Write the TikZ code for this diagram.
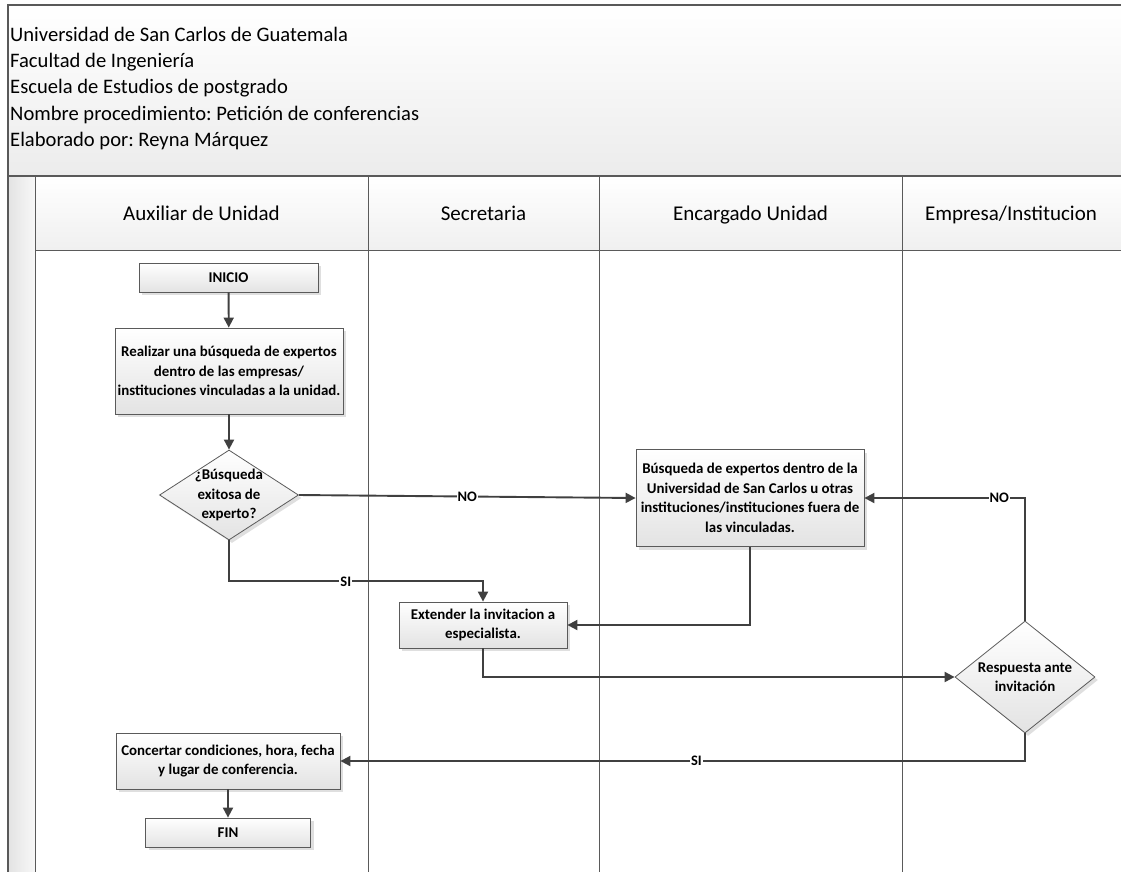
\documentclass[tikz,border=0pt]{standalone}
\usepackage{fontspec}
\setmainfont{Carlito}
\usepackage{tikz}
\usetikzlibrary{shapes.geometric,arrows.meta,shadows}
\frenchspacing

\definecolor{linegray}{HTML}{404040}
\definecolor{bordergray}{HTML}{5A5A5A}

\tikzset{
    boxfont/.style={font=\bfseries\fontsize{14.9}{19.5}\selectfont},
    procbox/.style={rectangle, draw=bordergray, line width=0.8pt, top color=white, bottom color=gray!22,
        drop shadow={opacity=0.25, shadow xshift=3pt, shadow yshift=-3pt}, align=center, inner sep=2pt, boxfont},
    decision/.style={diamond, draw=bordergray, line width=0.8pt, top color=white, bottom color=gray!22,
        drop shadow={opacity=0.25, shadow xshift=3pt, shadow yshift=-3pt}, inner sep=0pt},
    flow/.style={draw=linegray, line width=1.9pt, -{Triangle[length=10pt,width=10pt]}},
    answer/.style={fill=white, inner sep=1pt, font=\bfseries\fontsize{14.5}{15}\selectfont},
    lanetitle/.style={anchor=base, font=\fontsize{21}{24}\selectfont},
    laneline/.style={draw=bordergray, line width=1pt}
}

\begin{document}
\begin{tikzpicture}[x=1pt, y=-1pt]
        \useasboundingbox (0,0) rectangle (1121,871) ;
        % encabezado
        \shade[top color=white, bottom color=gray!15, draw=gray!70!black, line width=1.2pt] (8,5) rectangle (1130,176) ;
        \node[anchor=north west, align=left, inner sep=0pt, font=\fontsize{20.6}{26.2}\selectfont] (titulo) at (10,27)
            {Universidad de San Carlos de Guatemala\\Facultad de Ingeniería\\Escuela de Estudios de postgrado\\Nombre procedimiento: Petición de conferencias\\Elaborado por: Reyna Márquez} ;
        % carriles
        \shade[left color=gray!22, right color=gray!6] (8,176) rectangle (35,880) ;
        \shade[top color=white, bottom color=gray!12] (35,176) rectangle (1130,250) ;
        \draw[draw=gray!70!black, line width=1.2pt] (8,176) -- (8,880) ;
        \draw[laneline] (8,176) -- (1130,176) ;
        \draw[laneline] (35,250) -- (1130,250) ;
        \draw[laneline] (35,176) -- (35,880) ;
        \draw[laneline] (368,176) -- (368,880) ;
        \draw[laneline] (599,176) -- (599,880) ;
        \draw[laneline] (902,176) -- (902,880) ;
        \node[lanetitle] (aux) at (201.5,220) {Auxiliar de Unidad} ;
        \node[lanetitle] (sec) at (483.5,220) {Secretaria} ;
        \node[lanetitle] (enc) at (750.5,220) {Encargado Unidad} ;
        \node[lanetitle] (emp) at (1011,220) {Empresa/Institucion} ;
        % nodos
        \node[procbox, minimum width=179pt, minimum height=29pt] (ini) at (228.5,277.5) {INICIO} ;
        \node[procbox, minimum width=228pt, minimum height=86pt] (real) at (229,371) {Realizar una búsqueda de expertos\\dentro de las empresas/\\instituciones vinculadas a la unidad.} ;
        \node[decision, minimum width=139pt, minimum height=90pt,
            label={[boxfont, align=center]center:¿Búsqueda\\exitosa de\\experto?}] (exito) at (229,495) {} ;
        \node[procbox, minimum width=228pt, minimum height=97pt] (busq) at (750,498) {Búsqueda de expertos dentro de la\\Universidad de San Carlos u otras\\instituciones/instituciones fuera de\\las vinculadas.} ;
        \node[procbox, minimum width=168pt, minimum height=46pt] (ext) at (483,625) {Extender la invitacion a\\especialista.} ;
        \node[decision, minimum width=140pt, minimum height=112pt,
            label={[boxfont, align=center]center:Respuesta ante\\invitación}] (resp) at (1025,677) {} ;
        \node[procbox, minimum width=224pt, minimum height=56pt] (conc) at (228,761) {Concertar condiciones, hora, fecha\\y lugar de conferencia.} ;
        \node[procbox, minimum width=165pt, minimum height=29pt] (fin) at (228,832.5) {FIN} ;
        % conectores
        \draw[flow] (ini) -- (real) ;
        \draw[flow] (real) -- (exito) ;
        \draw[flow] (exito.east) -- node[answer] {NO} (busq.west) ;
        \draw[flow] (exito.south) -- ++(0,41) -| node[answer, pos=0.23] {SI} (ext.north) ;
        \draw[flow] (busq.south) |- (ext.east) ;
        \draw[flow] (ext.south) |- (resp.west) ;
        \draw[flow] (resp.north) |- node[answer, pos=0.58] {NO} (busq.east) ;
        \draw[flow] (resp.south) |- node[answer, pos=0.74] {SI} (conc.east) ;
        \draw[flow] (conc) -- (fin) ;
    \end{tikzpicture}
\end{document}
